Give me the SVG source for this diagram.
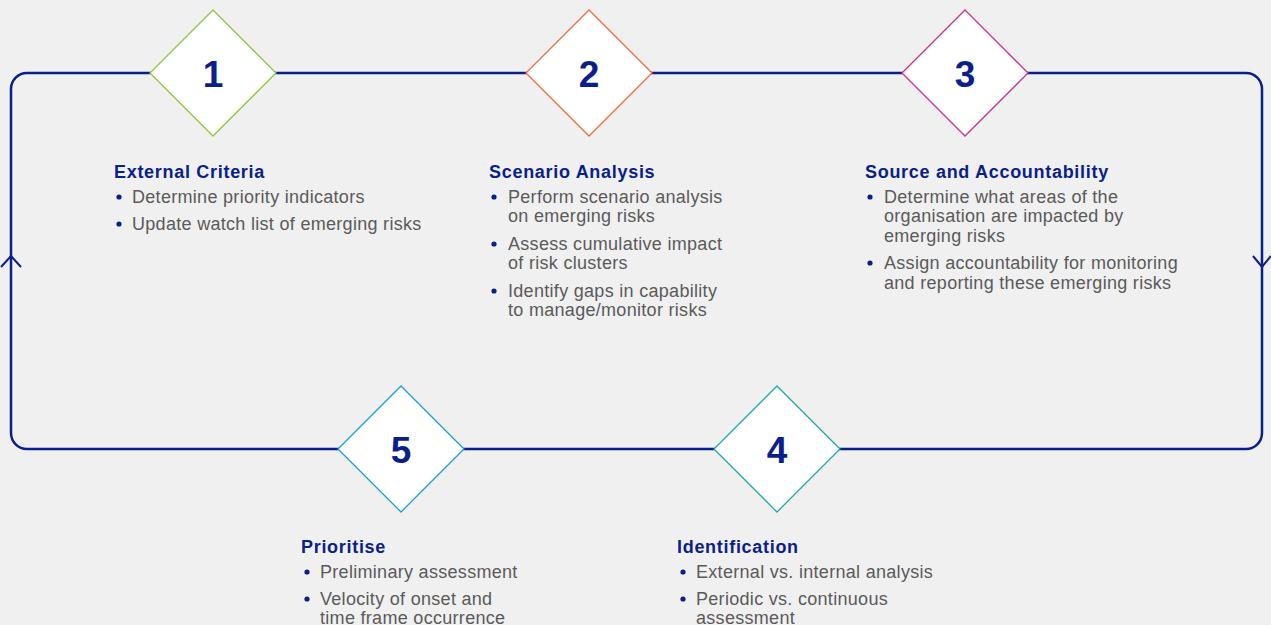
<svg xmlns="http://www.w3.org/2000/svg" width="1271" height="625" viewBox="0 0 1271 625">
<style>
.bg{fill:#f0f0f0}
.loop{fill:none;stroke:#0a1e8c;stroke-width:2.5}
.arr{fill:none;stroke:#0a1e8c;stroke-width:2}
.dia{fill:#ffffff;stroke-width:1.3}
.num{font-family:"Liberation Sans",Arial,sans-serif;font-weight:bold;font-size:37px;fill:#0a1e8c;text-anchor:middle}
.ttl{font-family:"Liberation Sans",Arial,sans-serif;font-weight:bold;font-size:18px;letter-spacing:0.7px;fill:#0a1e8c}
.txt{font-family:"Liberation Sans",Arial,sans-serif;font-size:18px;letter-spacing:0.3px;fill:#5a5a5a}
.bul{fill:#0a1e8c}
</style>
<rect class="bg" x="0" y="0" width="1271" height="625"/>
<g id="connectors">
<rect class="loop" x="11" y="73" width="1251" height="376" rx="16" ry="16"/>
<polyline class="arr" points="1,267 11,256 21,267"/>
<polyline class="arr" points="1253,256 1262,267 1271,256"/>
</g>
<g id="node1">
<polygon class="dia" stroke="#8dc63f" points="213,10 276,73 213,136 150,73"/>
<text class="num" x="213" y="87">1</text>
</g>
<g id="node2">
<polygon class="dia" stroke="#f26b3a" points="589,10 652,73 589,136 526,73"/>
<text class="num" x="589" y="87">2</text>
</g>
<g id="node3">
<polygon class="dia" stroke="#c8348e" points="965,10 1028,73 965,136 902,73"/>
<text class="num" x="965" y="87">3</text>
</g>
<g id="node5">
<polygon class="dia" stroke="#1b9be0" points="401,386 464,449 401,512 338,449"/>
<text class="num" x="401" y="463">5</text>
</g>
<g id="node4">
<polygon class="dia" stroke="#17aca4" points="777,386 840,449 777,512 714,449"/>
<text class="num" x="777" y="463">4</text>
</g>
<g id="text1">
<text class="ttl" x="114" y="178">External Criteria</text>
<circle class="bul" cx="119" cy="197" r="2.6"/>
<text class="txt" x="132" y="203">Determine priority indicators</text>
<circle class="bul" cx="119" cy="224" r="2.6"/>
<text class="txt" x="132" y="230">Update watch list of emerging risks</text>
</g>
<g id="text2">
<text class="ttl" x="489" y="178">Scenario Analysis</text>
<circle class="bul" cx="494" cy="197" r="2.6"/>
<text class="txt" x="508" y="203">Perform scenario analysis</text>
<text class="txt" x="508" y="222">on emerging risks</text>
<circle class="bul" cx="494" cy="244" r="2.6"/>
<text class="txt" x="508" y="250">Assess cumulative impact</text>
<text class="txt" x="508" y="269">of risk clusters</text>
<circle class="bul" cx="494" cy="291" r="2.6"/>
<text class="txt" x="508" y="297">Identify gaps in capability</text>
<text class="txt" x="508" y="316">to manage/monitor risks</text>
</g>
<g id="text3">
<text class="ttl" x="865" y="178">Source and Accountability</text>
<circle class="bul" cx="870" cy="197" r="2.6"/>
<text class="txt" x="884" y="203">Determine what areas of the</text>
<text class="txt" x="884" y="222">organisation are impacted by</text>
<text class="txt" x="884" y="242">emerging risks</text>
<circle class="bul" cx="870" cy="263" r="2.6"/>
<text class="txt" x="884" y="269">Assign accountability for monitoring</text>
<text class="txt" x="884" y="289">and reporting these emerging risks</text>
</g>
<g id="text5">
<text class="ttl" x="301" y="553">Prioritise</text>
<circle class="bul" cx="307" cy="572" r="2.6"/>
<text class="txt" x="320" y="578">Preliminary assessment</text>
<circle class="bul" cx="307" cy="599" r="2.6"/>
<text class="txt" x="320" y="605">Velocity of onset and</text>
<text class="txt" x="320" y="624">time frame occurrence</text>
</g>
<g id="text4">
<text class="ttl" x="677" y="553">Identification</text>
<circle class="bul" cx="683" cy="572" r="2.6"/>
<text class="txt" x="696" y="578">External vs. internal analysis</text>
<circle class="bul" cx="683" cy="599" r="2.6"/>
<text class="txt" x="696" y="605">Periodic vs. continuous</text>
<text class="txt" x="696" y="624">assessment</text>
</g>
</svg>
